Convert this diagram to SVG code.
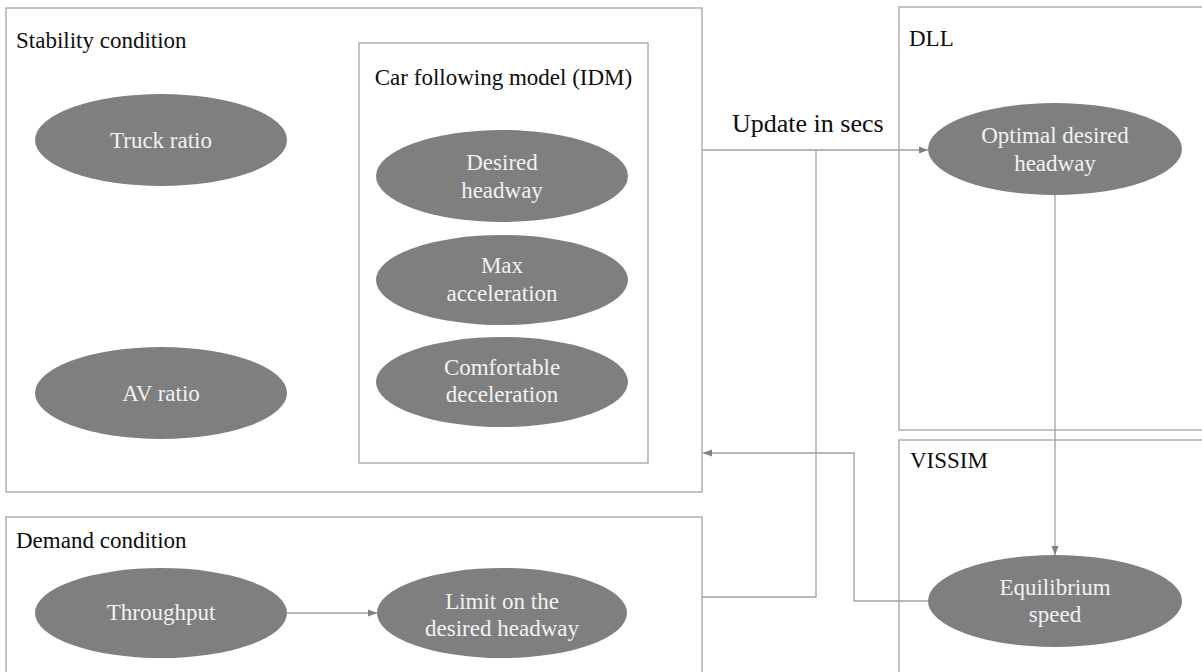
<svg xmlns="http://www.w3.org/2000/svg" width="1202" height="672" viewBox="0 0 1202 672">
<style>
.box{fill:none;stroke:#a3a3a3;stroke-width:1.3}
.ell{fill:#7f7f7f}
text{font-family:'Liberation Serif','DejaVu Serif',serif}
.title{font-size:23px;fill:#0d0d0d}
.lbl{font-size:23px;fill:#f2f2f2;text-anchor:middle}
.con{fill:none;stroke:#a0a0a0;stroke-width:1.3}
.big{font-size:26px;fill:#0d0d0d}
</style>
<defs>
<marker id="arr" markerUnits="userSpaceOnUse" markerWidth="10" markerHeight="8" refX="9" refY="4" orient="auto">
<path d="M0,0.5 L9,4 L0,7.5 z" fill="#7f7f7f"/>
</marker>
</defs>
<rect width="1202" height="672" fill="#ffffff"/>

<g id="stability">
<rect class="box" x="6" y="8" width="696" height="484"/>
<text class="title" x="16" y="48" font-family="Liberation Serif, DejaVu Serif, serif">Stability condition</text>
</g>
<g id="idm">
<rect class="box" x="359" y="43" width="289" height="420"/>
<text class="title" x="503.5" y="85" text-anchor="middle">Car following model (IDM)</text>
</g>
<g id="demand">
<rect class="box" x="6" y="517" width="696" height="170"/>
<text class="title" x="16" y="548">Demand condition</text>
</g>
<g id="dll">
<rect class="box" x="899" y="7" width="320" height="423"/>
<text class="title" x="909" y="46">DLL</text>
</g>
<g id="vissim">
<rect class="box" x="899" y="440" width="320" height="250"/>
<text class="title" x="910" y="468">VISSIM</text>
</g>

<g id="connectors">
<path class="con" d="M702,150 H928" marker-end="url(#arr)"/>
<path class="con" d="M702,597 H816 V150"/>
<path class="con" d="M1055,195 V555" marker-end="url(#arr)"/>
<path class="con" d="M928,601 H854 V453 H703" marker-end="url(#arr)"/>
<path class="con" d="M287,613 H377" marker-end="url(#arr)"/>
</g>
<text class="big" x="732" y="132">Update in secs</text>

<g id="truck-ratio">
<ellipse class="ell" cx="161" cy="140" rx="126" ry="46"/>
<text class="lbl" x="161" y="148">Truck ratio</text>
</g>
<g id="av-ratio">
<ellipse class="ell" cx="161" cy="393" rx="126" ry="46"/>
<text class="lbl" x="161" y="401">AV ratio</text>
</g>
<g id="desired-headway">
<ellipse class="ell" cx="502" cy="176" rx="126" ry="46"/>
<text class="lbl" x="502" y="170">Desired</text>
<text class="lbl" x="502" y="198">headway</text>
</g>
<g id="max-acceleration">
<ellipse class="ell" cx="502" cy="280" rx="126" ry="45"/>
<text class="lbl" x="502" y="273">Max</text>
<text class="lbl" x="502" y="301">acceleration</text>
</g>
<g id="comfortable-deceleration">
<ellipse class="ell" cx="502" cy="382" rx="126" ry="45"/>
<text class="lbl" x="502" y="375">Comfortable</text>
<text class="lbl" x="502" y="402">deceleration</text>
</g>
<g id="throughput">
<ellipse class="ell" cx="161" cy="613" rx="126" ry="45"/>
<text class="lbl" x="161" y="620">Throughput</text>
</g>
<g id="limit">
<ellipse class="ell" cx="502" cy="613" rx="125" ry="45"/>
<text class="lbl" x="502" y="609">Limit on the</text>
<text class="lbl" x="502" y="636">desired headway</text>
</g>
<g id="optimal">
<ellipse class="ell" cx="1055" cy="149" rx="127" ry="46"/>
<text class="lbl" x="1055" y="143">Optimal desired</text>
<text class="lbl" x="1055" y="171">headway</text>
</g>
<g id="equilibrium">
<ellipse class="ell" cx="1055" cy="601" rx="127" ry="46"/>
<text class="lbl" x="1055" y="595">Equilibrium</text>
<text class="lbl" x="1055" y="622">speed</text>
</g>
</svg>
